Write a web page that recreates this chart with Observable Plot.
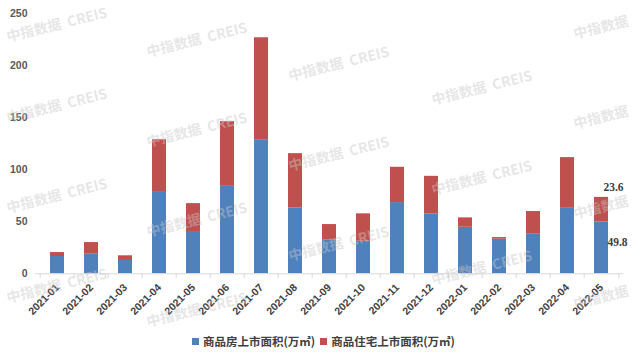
<!DOCTYPE html>
<html><head><meta charset="utf-8">
<script src="https://cdn.jsdelivr.net/npm/d3@7"></script>
<script src="https://cdn.jsdelivr.net/npm/@observablehq/plot@0.6"></script>
<style>
body{margin:0;background:#fff;}
#wrap{position:relative;width:641px;height:356px;overflow:hidden;background:#fff;font-family:"Liberation Sans","Noto Sans CJK SC",sans-serif;}
#legend{height:30px;display:flex;align-items:center;justify-content:flex-start;padding-left:192px;box-sizing:border-box;font-family:"Noto Sans CJK SC",sans-serif;font-size:11.5px;font-weight:700;color:#404040;white-space:nowrap;}
#legend .sw{display:inline-block;width:7px;height:7px;margin-right:4px;}
#legend .item{display:flex;align-items:center;margin-right:5px;}
#wm{position:absolute;left:0;top:0;pointer-events:none;}
</style></head>
<body><div id="wrap"></div>
<script>
const months = ["2021-01","2021-02","2021-03","2021-04","2021-05","2021-06","2021-07","2021-08","2021-09","2021-10","2021-11","2021-12","2022-01","2022-02","2022-03","2022-04","2022-05"];
const commercial = [16.6, 18.8, 12.8, 79.0, 40.6, 84.0, 128.8, 63.3, 32.3, 31.3, 68.4, 57.6, 44.7, 33.2, 38.0, 62.9, 49.8];
const residential = [3.8, 11.2, 4.5, 49.8, 26.8, 62.1, 97.9, 52.1, 15.0, 26.3, 33.9, 36.0, 9.0, 1.6, 21.8, 48.7, 23.6];
const seriesNames = ["商品房上市面积(万㎡)", "商品住宅上市面积(万㎡)"];
const seriesColors = ["#4F81BD", "#C0504D"];
const yTicks = [0, 50, 100, 150, 200, 250];
const watermark = "中指数据  CREIS";
const watermarkShort = "中指数据";

const rows = [];
months.forEach((m, i) => rows.push({month: m, series: seriesNames[0], value: commercial[i]}));
months.forEach((m, i) => rows.push({month: m, series: seriesNames[1], value: residential[i]}));

const W = 641, H = 326, mL = 35, mR = 18, mT = 13, mB = 52.7;
const step = (W - mL - mR) / months.length;
const last = months[months.length - 1];
const lastIdx = months.length - 1;
const labelRows = [
  {month: last, y: commercial[lastIdx] + residential[lastIdx], text: residential[lastIdx].toFixed(1), dy: -10, dx: 12},
  {month: last, y: commercial[lastIdx], text: commercial[lastIdx].toFixed(1), dy: 20, dx: 16}
];

const chart = Plot.plot({
  width: W, height: H,
  marginLeft: mL, marginRight: mR, marginTop: mT, marginBottom: mB,
  style: {fontFamily: '"Liberation Sans","Noto Sans CJK SC",sans-serif', background: "#fff"},
  x: {domain: months, paddingInner: 0.6, paddingOuter: 0.3, label: null},
  y: {domain: [0, 250], label: null},
  color: {domain: seriesNames, range: seriesColors},
  marks: [
    Plot.barY(rows, {x: "month", y: "value", fill: "series"}),
    Plot.ruleY([0], {stroke: "#d9d9d9", strokeWidth: 1}),
    Plot.ruleX(months, {x: d => d, y1: 0, y2: 0, insetBottom: -5, dx: -step / 2, stroke: "#d9d9d9"}),
    Plot.ruleX([last], {x: d => d, y1: 0, y2: 0, insetBottom: -5, dx: step / 2, stroke: "#d9d9d9"}),
    Plot.axisY({ticks: yTicks, tickSize: 0, tickPadding: 8, fontSize: 10.5, fontWeight: 700, fill: "#595959", label: null}),
    Plot.axisX({tickSize: 0, tickRotate: -45, tickPadding: 12, fontSize: 10.5, fontWeight: 700, fill: "#404040", label: null}),
    Plot.text(labelRows.slice(0,1), {x: "month", y: "y", text: "text", dy: labelRows[0].dy, dx: labelRows[0].dx, fontSize: 11.5, fontWeight: 700, fill: "#404040", fontFamily: '"Liberation Serif",serif'}),
    Plot.text(labelRows.slice(1), {x: "month", y: "y", text: "text", dy: labelRows[1].dy, dx: labelRows[1].dx, fontSize: 11.5, fontWeight: 700, fill: "#404040", fontFamily: '"Liberation Serif",serif'})
  ]
});

const wrap = document.getElementById("wrap");
wrap.appendChild(chart);

const legend = document.createElement("div");
legend.id = "legend";
seriesNames.forEach((name, i) => {
  const it = document.createElement("span");
  it.className = "item";
  const sw = document.createElement("span");
  sw.className = "sw";
  sw.style.background = seriesColors[i];
  it.appendChild(sw);
  it.appendChild(document.createTextNode(name));
  legend.appendChild(it);
});
wrap.appendChild(legend);

// watermark overlay
const ns = "http://www.w3.org/2000/svg";
const wm = document.createElementNS(ns, "svg");
wm.setAttribute("id", "wm");
wm.setAttribute("width", 641);
wm.setAttribute("height", 356);
const colX = [8, 148, 290, 433, 575];
colX.forEach((x, c) => {
  for (let k = -1; k < 5; k++) {
    let y = 33 + 24 * c - (c >= 3 ? 90 : 0) + 90 * k;
    if (c === 0 && k === 0) y = 42;
    if (y < 30 || y > 340) continue;
    const t = document.createElementNS(ns, "text");
    t.setAttribute("x", x);
    t.setAttribute("y", y);
    t.setAttribute("transform", `rotate(-14 ${x} ${y})`);
    t.setAttribute("font-family", '"Noto Sans CJK SC",sans-serif');
    t.setAttribute("font-weight", "700");
    t.setAttribute("font-size", "14");
    t.setAttribute("fill", "rgb(200,200,200)");
    t.setAttribute("fill-opacity", "0.45");
    t.style.whiteSpace = "pre";
    t.textContent = c === 4 ? watermarkShort : watermark;
    wm.appendChild(t);
  }
});
wrap.appendChild(wm);
</script>
</body></html>
